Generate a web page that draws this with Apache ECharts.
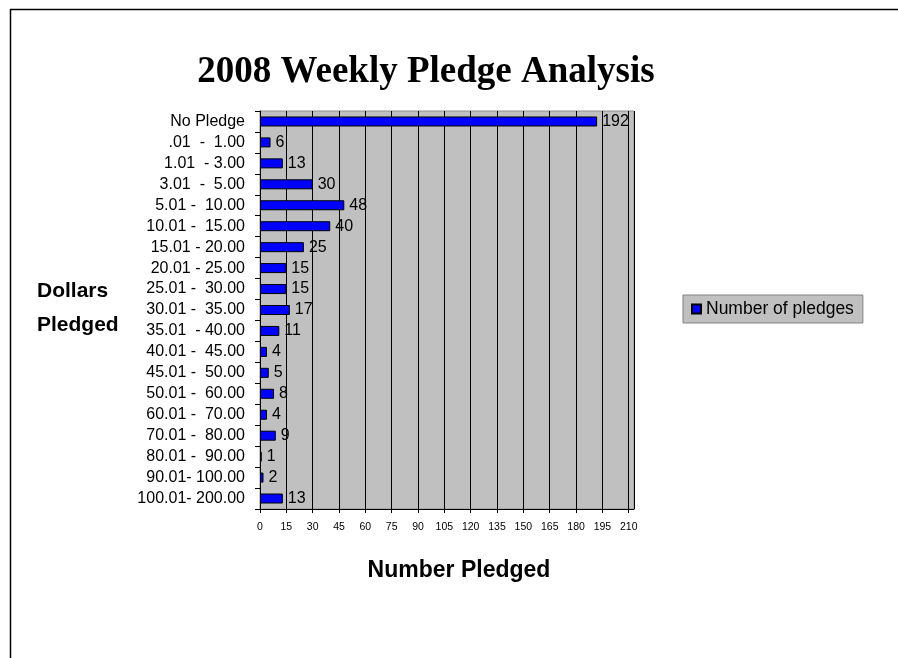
<!DOCTYPE html>
<html>
<head>
<meta charset="UTF-8">
<title>2008 Weekly Pledge Analysis</title>
<script src="https://cdn.jsdelivr.net/npm/echarts@6/dist/echarts.min.js"></script>
<style>
  * { margin: 0; padding: 0; }
  body { background: #fff; }
  #main { width: 898px; height: 658px; }
</style>
</head>
<body>
<div id="main"></div>
<script>
// pledge ranges (top to bottom)
var ranges = [
  'No Pledge', '.01  -  1.00', '1.01  - 3.00', '3.01  -  5.00', '5.01 -  10.00',
  '10.01 -  15.00', '15.01 - 20.00', '20.01 - 25.00', '25.01 -  30.00', '30.01 -  35.00',
  '35.01  - 40.00', '40.01 -  45.00', '45.01 -  50.00', '50.01 -  60.00', '60.01 -  70.00',
  '70.01 -  80.00', '80.01 -  90.00', '90.01- 100.00', '100.01- 200.00'
];
// number of pledges per range
var pledges = [192, 6, 13, 30, 48, 40, 25, 15, 15, 17, 11, 4, 5, 8, 4, 9, 1, 2, 13];

var chart = echarts.init(document.getElementById('main'));

var option = {
  animation: false,
  backgroundColor: '#fff',
  title: {
    text: '2008 Weekly Pledge Analysis',
    left: 421, top: 49, textAlign: 'center',
    textStyle: { fontFamily: 'Liberation Serif', fontSize: 37, fontWeight: 'bold', color: '#000' }
  },
  legend: {
    data: ['Number of pledges'],
    left: 683, top: 295,
    orient: 'vertical',
    backgroundColor: '#c0c0c0',
    borderColor: '#808080', borderWidth: 1,
    padding: [5, 9, 5, 8],
    itemWidth: 9, itemHeight: 9, itemGap: 0,
    icon: 'rect',
    textStyle: { fontFamily: 'Liberation Sans', fontSize: 17.5, color: '#000' }
  },
  grid: {
    left: 260, top: 111, right: 264, bottom: 149,
    show: true, backgroundColor: '#c0c0c0', borderColor: '#909090', borderWidth: 1
  },
  xAxis: {
    type: 'value',
    min: 0, max: 213, interval: 15,
    axisLine: { show: true, lineStyle: { color: '#000' } },
    axisTick: { show: true, length: 4, lineStyle: { color: '#000' } },
    axisLabel: { showMaxLabel: false, margin: 13, fontFamily: 'Liberation Sans', fontSize: 10.5, color: '#000' },
    splitLine: { show: true, lineStyle: { color: '#000', width: 1 } }
  },
  yAxis: {
    type: 'category',
    data: ranges,
    inverse: true,
    axisLine: { show: true, lineStyle: { color: '#000' } },
    axisTick: { show: true, length: 5, alignWithLabel: false, lineStyle: { color: '#000' } },
    axisLabel: { margin: 15, fontFamily: 'Liberation Sans', fontSize: 16, color: '#000', interval: 0 },
    splitLine: { show: false }
  },
  graphic: [
    { type: 'line', shape: { x1: 10, y1: 9.5, x2: 898, y2: 9.5 }, style: { stroke: '#000', lineWidth: 1.5 } },
    { type: 'line', shape: { x1: 10.5, y1: 9, x2: 10.5, y2: 658 }, style: { stroke: '#000', lineWidth: 1.5 } },
    {
      type: 'text', left: 37, top: 274,
      style: { text: 'Dollars\nPledged', fontFamily: 'Liberation Sans', fontSize: 21, fontWeight: 'bold',
               fill: '#000', align: 'center', lineHeight: 34 }
    },
    {
      type: 'text', x: 459, y: 571,
      style: { text: 'Number Pledged', fontFamily: 'Liberation Sans', fontSize: 23, fontWeight: 'bold',
               fill: '#000', align: 'center', verticalAlign: 'middle' }
    }
  ],
  series: [{
    name: 'Number of pledges',
    type: 'bar',
    data: pledges,
    barWidth: 10,
    itemStyle: { color: '#0000ff', borderColor: '#000', borderWidth: 1 },
    label: {
      show: true, position: 'right', distance: 5,
      fontFamily: 'Liberation Sans', fontSize: 16, color: '#000'
    }
  }]
};

chart.setOption(option);
</script>
</body>
</html>
